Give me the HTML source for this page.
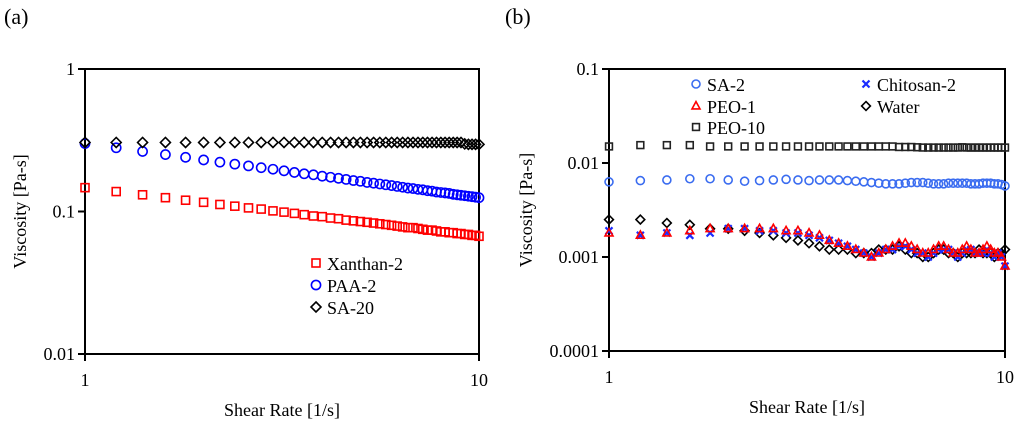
<!DOCTYPE html>
<html><head><meta charset="utf-8">
<style>
html,body{margin:0;padding:0;background:#fff;}
svg{display:block;}
svg text{font-family:"Liberation Serif","Times New Roman",serif;}
</style></head>
<body>
<svg id="c" width="1024" height="429" viewBox="0 0 1024 429" xmlns="http://www.w3.org/2000/svg"></svg>
<script>
const xsA = [1,1.2,1.4,1.6,1.8,2,2.2,2.4,2.6,2.8,3,3.2,3.4,3.6,3.8,4,4.2,4.4,4.6,4.8,5,5.2,5.4,5.6,5.8,6,6.2,6.4,6.6,6.8,7,7.2,7.4,7.6,7.8,8,8.2,8.4,8.6,8.8,9,9.2,9.4,9.6,9.8,10];
const xanthan = [.147,.138,.131,.125,.120,.116,.112,.109,.106,.104,.101,.099,.097,.095,.093,.092,.090,.089,.087,.086,.085,.084,.083,.082,.081,.080,.079,.078,.077,.077,.076,.075,.074,.074,.073,.072,.072,.071,.071,.070,.070,.069,.069,.068,.068,.067];
const paa = [.300,.280,.264,.251,.240,.230,.222,.215,.209,.203,.198,.193,.188,.184,.181,.177,.174,.171,.168,.165,.163,.160,.158,.156,.154,.152,.150,.148,.146,.145,.143,.142,.140,.139,.137,.136,.135,.134,.132,.131,.130,.129,.128,.127,.126,.125];
const sa20 = [.305,.305,.305,.305,.305,.305,.305,.305,.305,.305,.305,.305,.305,.305,.305,.305,.305,.305,.305,.305,.305,.305,.305,.305,.305,.305,.305,.305,.305,.305,.305,.305,.305,.305,.305,.305,.305,.305,.305,.305,.305,.298,.296,.296,.296,.296];
const xsB = [1,1.2,1.4,1.6,1.8,2,2.2,2.4,2.6,2.8,3,3.2,3.4,3.6,3.8,4,4.2,4.4,4.6,4.8,5,5.2,5.4,5.6,5.8,6,6.2,6.4,6.6,6.8,7,7.2,7.4,7.6,7.8,8,8.2,8.4,8.6,8.8,9,9.2,9.4,9.6,9.8,10];
const peo10 = [.0150,.0155,.0155,.0155,.0150,.0150,.0150,.0150,.0150,.0150,.0150,.0150,.0150,.0150,.0150,.0150,.0150,.0150,.0150,.0150,.0150,.0150,.0148,.0148,.0148,.0147,.0146,.0146,.0146,.0146,.0146,.0146,.0146,.0146,.0147,.0146,.0146,.0146,.0146,.0146,.0146,.0146,.0146,.0146,.0146,.0146];
const sa2 = [.0063,.0065,.0066,.0068,.0068,.0066,.0064,.0065,.0066,.0067,.0066,.0065,.0066,.0066,.0066,.0065,.0064,.0063,.0062,.0061,.0060,.0060,.0060,.0061,.0062,.0062,.0062,.0061,.0060,.0060,.0060,.0061,.0061,.0061,.0061,.0061,.0060,.0060,.0060,.0061,.0061,.0061,.0060,.0060,.0059,.0057];
const water = [.0025,.0025,.0023,.0022,.0020,.0020,.0019,.0018,.0017,.0016,.0015,.0014,.0013,.0012,.0012,.0012,.0011,.0011,.0011,.0012,.0012,.0012,.0013,.0012,.0011,.0011,.0010,.0010,.0011,.0012,.0012,.0011,.0011,.0010,.0011,.0011,.0011,.0011,.0012,.0011,.0011,.0011,.0010,.0011,.0011,.0012];
const peo1 = [.0018,.0017,.0018,.0019,.0020,.0020,.0020,.0020,.0020,.0019,.0019,.0018,.0017,.0015,.0014,.0013,.0012,.0011,.0010,.0011,.0012,.0013,.0014,.0014,.0013,.0012,.0011,.0011,.0012,.0013,.0013,.0012,.0011,.0011,.0012,.0013,.0012,.0011,.0011,.0012,.0013,.0012,.0011,.0011,.0010,.0008];
const chitosan = [.0019,.0017,.0018,.0017,.0018,.0020,.0020,.0019,.0019,.0018,.0018,.0017,.0016,.0015,.0014,.0013,.0012,.0011,.0010,.0011,.0012,.0012,.0013,.0013,.0012,.0011,.0011,.0010,.0011,.0012,.0012,.0012,.0011,.0010,.0011,.0012,.0012,.0011,.0011,.0011,.0012,.0011,.0010,.0011,.0010,.0008];
const yTicksA = [1,0.1,0.01];
const yTickLabelsA = ["1","0.1","0.01"];
const yTicksB = [0.1,0.01,0.001,0.0001];
const yTickLabelsB = ["0.1","0.01","0.001","0.0001"];
const xTicks = [1,10];
const xTickLabels = ["1","10"];

const NS="http://www.w3.org/2000/svg";
const svg=document.getElementById('c');
function el(tag,attrs,parent){const e=document.createElementNS(NS,tag);for(const k in attrs)e.setAttribute(k,attrs[k]);(parent||svg).appendChild(e);return e;}
function txt(s,x,y,size,anchor,parent){const t=el('text',{x:x,y:y,'font-size':size,'text-anchor':anchor||'start',fill:'#000','font-family':'Liberation Serif, serif'},parent);t.textContent=s;return t;}

function marker(g,type,x,y,color,r){
  r=r||4;
  let m;
  if(type==='sq') m=el('rect',{x:x-r,y:y-r,width:2*r,height:2*r,fill:'none',stroke:color,'stroke-width':1.6},g);
  else if(type==='ci') m=el('circle',{cx:x,cy:y,r:r+0.6,fill:'none',stroke:color,'stroke-width':1.6},g);
  else if(type==='di') m=el('path',{d:`M${x} ${y-r-1}L${x+r+1} ${y}L${x} ${y+r+1}L${x-r-1} ${y}Z`,fill:'none',stroke:color,'stroke-width':1.6},g);
  else if(type==='tr') m=el('path',{d:`M${x} ${y-r-1}L${x+r+0.6} ${y+r-0.5}L${x-r-0.6} ${y+r-0.5}Z`,fill:'none',stroke:color,'stroke-width':1.6},g);
  else if(type==='x') m=el('path',{d:`M${x-3.5} ${y-3.5}L${x+3.5} ${y+3.5}M${x+3.5} ${y-3.5}L${x-3.5} ${y+3.5}`,fill:'none',stroke:color,'stroke-width':2.2},g);
  return m;
}

function panel(cfg){
  const {x0,x1,yTop,yBot,lmin,lmax,name}=cfg;
  const g=el('g',{});
  
  
  const sx=v=>x0+Math.log10(v)*(x1-x0);
  const sy=v=>yBot-(Math.log10(v)-lmin)/(lmax-lmin)*(yBot-yTop);
  const frame=el('rect',{x:x0,y:yTop,width:x1-x0,height:yBot-yTop,fill:'none',stroke:'#000','stroke-width':2},g);
  
  
  cfg.yT.forEach((v,i)=>{
    el('line',{x1:x0-7,x2:x0,y1:sy(v),y2:sy(v),stroke:'#000','stroke-width':2},g);
    const t=txt(cfg.yL[i],x0-10,sy(v)+6,18,'end',g);
    
    
  });
  xTicks.forEach((v,i)=>{
    el('line',{x1:sx(v),x2:sx(v),y1:yBot,y2:yBot+7,stroke:'#000','stroke-width':2},g);
    const t=txt(xTickLabels[i],sx(v),yBot+32,18,'middle',g);
    
    
  });
  const xt=txt('Shear Rate [1/s]',(x0+x1)/2,yBot+62,18,'middle',g);
  
  
  const yt=txt('Viscosity [Pa-s]',0,0,18,'middle',g);
  yt.setAttribute('transform',`translate(${cfg.ylx},${(yTop+yBot)/2}) rotate(-90)`);
  
  
  cfg.series.forEach(s=>{
    const sg=el('g',{},g);
    
    
    s.xs.forEach((xv,i)=>{
      const m=marker(sg,s.type,sx(xv),sy(s.ys[i]),s.color,cfg.r);
      
      
    });
    const lg=el('g',{},g);
    
    
    marker(lg,s.type,s.lx,s.ly-7,s.color,cfg.r);
    txt(s.label,s.lx+11,s.ly,18,'start',lg);
  });
}

panel({name:'panel-a',x0:85,x1:479,yTop:69,yBot:354,lmin:-2,lmax:0,ylx:26,r:4,yT:yTicksA,yL:yTickLabelsA,series:[
  {name:'series-xanthan-2',label:'Xanthan-2',type:'sq',color:'#f00',xs:xsA,ys:xanthan,lx:316,ly:270},
  {name:'series-paa-2',label:'PAA-2',type:'ci',color:'#00f',xs:xsA,ys:paa,lx:316,ly:292},
  {name:'series-sa-20',label:'SA-20',type:'di',color:'#000',xs:xsA,ys:sa20,lx:316,ly:314}
]});
panel({name:'panel-b',x0:609,x1:1005,yTop:69,yBot:351,lmin:-4,lmax:-1,ylx:532,r:3.4,yT:yTicksB,yL:yTickLabelsB,series:[
  {name:'series-peo-10',label:'PEO-10',type:'sq',color:'#222',xs:xsB,ys:peo10,lx:696,ly:134},
  {name:'series-sa-2',label:'SA-2',type:'ci',color:'#3a6cf0',xs:xsB,ys:sa2,lx:696,ly:91},
  {name:'series-water',label:'Water',type:'di',color:'#000',xs:xsB,ys:water,lx:866,ly:113},
  {name:'series-chitosan-2',label:'Chitosan-2',type:'x',color:'#1a2cff',xs:xsB,ys:chitosan,lx:866,ly:91},
  {name:'series-peo-1',label:'PEO-1',type:'tr',color:'#f00',xs:xsB,ys:peo1,lx:696,ly:113}
]});
const pa=txt('(a)',4,24,22,'start');


const pb=txt('(b)',505,24,22,'start');


</script>
</body></html>
